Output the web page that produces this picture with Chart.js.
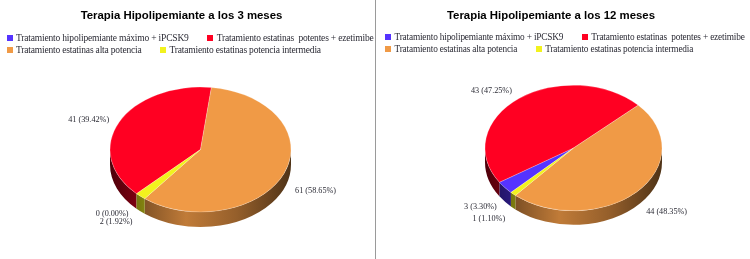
<!DOCTYPE html>
<html>
<head>
<meta charset="utf-8">
<script src="https://cdn.jsdelivr.net/npm/chart.js@4"></script>
<style>
  html, body { margin: 0; padding: 0; background: #fff; }
  body { position: relative; width: 750px; height: 259px; overflow: hidden; }
  canvas { position: absolute; top: 0; }
  #divider { position: absolute; left: 375px; top: 0; width: 1px; height: 259px; background: #9a9a9a; }
  .legend { position: absolute; display: flex; flex-wrap: wrap; font-family: "Liberation Serif", serif; color: #2b2b35; white-space: pre; line-height: 12px; }
  .legend span { display: flex; align-items: center; margin-right: 18.5px; }
  .legend i { display: inline-block; width: 6px; height: 6px; margin-right: 3.5px; }
</style>
</head>
<body>
<canvas id="chart3m" width="363" height="259" style="left:0"></canvas>
<canvas id="chart12m" width="352" height="259" style="left:375px"></canvas>
<div id="divider"></div>
<div class="legend" id="legend3m" style="left:6.5px;top:31.5px;width:400px;font-size:9.5px;letter-spacing:-0.18px"></div>
<div class="legend" id="legend12m" style="left:385px;top:30.5px;width:380px;font-size:9.3px;letter-spacing:-0.18px"></div>
<script>
const categories = [
  "Tratamiento hipolipemiante máximo + iPCSK9",
  "Tratamiento estatinas  potentes + ezetimibe",
  "Tratamiento estatinas alta potencia",
  "Tratamiento estatinas potencia intermedia"
];
const values3m = [0, 41, 61, 2];
const values12m = [3, 43, 44, 1];
const percent3m = ["0.00", "39.42", "58.65", "1.92"];
const percent12m = ["3.30", "47.25", "48.35", "1.10"];
const colors = ["#5533ff", "#ff0022", "#f09a46", "#f2f21e"];

function shade(hex, f) {
  const n = parseInt(hex.slice(1), 16);
  const r = Math.round((n >> 16) * f);
  const g = Math.round(((n >> 8) & 255) * f);
  const b = Math.round((n & 255) * f);
  return `rgb(${r},${g},${b})`;
}

function tilt(ctx, arc, o) {
  ctx.translate(o.x, o.y);
  ctx.scale(1, o.k);
  ctx.translate(-arc.x, -arc.y);
}

// fake 3d: squash the pie and draw the rim under it
const pie3d = {
  id: "pie3d",
  beforeDatasetsDraw(chart, args, o) {
    const ctx = chart.ctx;
    const arcs = chart.getDatasetMeta(0).data;
    const ry = arcs[0].outerRadius * o.k;
    const rx = arcs[0].outerRadius;
    arcs.forEach((arc, i) => {
      // only the front half of the rim shows
      for (const shift of [0, Math.PI * 2]) {
        const a = Math.max(arc.startAngle - shift, 0);
        const b = Math.min(arc.endAngle - shift, Math.PI);
        if (b <= a) continue;
        const g = ctx.createLinearGradient(o.x - rx, 0, o.x + rx, 0);
        g.addColorStop(0, shade(colors[i], 0.3));
        g.addColorStop(0.22, shade(colors[i], 0.58));
        g.addColorStop(0.42, shade(colors[i], 0.8));
        g.addColorStop(0.7, shade(colors[i], 0.62));
        g.addColorStop(1, shade(colors[i], 0.33));
        ctx.beginPath();
        ctx.ellipse(o.x, o.y, rx, ry, 0, a, b);
        ctx.ellipse(o.x, o.y + o.depth, rx, ry, 0, b, a, true);
        ctx.closePath();
        ctx.fillStyle = g;
        ctx.fill();
      }
    });
  },
  beforeDatasetDraw(chart, args, o) {
    chart.ctx.save();
    tilt(chart.ctx, chart.getDatasetMeta(0).data[0], o);
  },
  afterDatasetDraw(chart) {
    chart.ctx.restore();
  },
  afterDraw(chart, args, o) {
    const ctx = chart.ctx;
    const arcs = chart.getDatasetMeta(0).data;
    const data = chart.data.datasets[0].data;
    ctx.save();
    ctx.font = '8.2px "Liberation Serif"';
    ctx.fillStyle = "#2b2b35";
    ctx.textBaseline = "middle";
    arcs.forEach((arc, i) => {
      const mid = (arc.startAngle + arc.endAngle) / 2;
      const px = o.x + Math.cos(mid) * arc.outerRadius;
      const py = o.y + Math.sin(mid) * arc.outerRadius * o.k;
      ctx.textAlign = Math.cos(mid) < 0 ? "right" : "left";
      ctx.fillText(`${data[i]} (${o.percents[i]}%)`, px + o.nudge[i][0], py + o.nudge[i][1]);
    });
    ctx.restore();
  }
};

function createPie(canvasId, title, values, percents, geom) {
  new Chart(document.getElementById(canvasId), {
    type: "pie",
    data: {
      labels: categories,
      datasets: [{
        data: values,
        backgroundColor: colors,
        borderColor: "rgba(255,255,255,0.45)",
        borderWidth: 0.6,
        clip: false
      }]
    },
    plugins: [pie3d],
    options: {
      responsive: false,
      animation: false,
      rotation: 225,
      radius: geom.radius,
      plugins: {
        legend: { display: false },
        tooltip: { enabled: false },
        title: {
          display: true,
          text: title,
          color: "#000",
          font: { family: '"Liberation Sans"', size: 11.4, weight: "bold" },
          padding: { top: 9, bottom: 4 }
        },
        pie3d: { ...geom, percents: percents }
      }
    }
  });
}

function createLegend(id) {
  const box = document.getElementById(id);
  categories.forEach((name, i) => {
    const item = document.createElement("span");
    const swatch = document.createElement("i");
    swatch.style.background = colors[i];
    item.appendChild(swatch);
    item.appendChild(document.createTextNode(name));
    box.appendChild(item);
  });
}

createPie("chart3m", "Terapia Hipolipemiante a los 3 meses", values3m, percent3m, {
  radius: 90.5, x: 200.5, y: 149.5, k: 0.69, depth: 15,
  nudge: [[-8, 20], [-10, -2], [11, 17.6], [-8, 26]]
});
createPie("chart12m", "Terapia Hipolipemiante a los 12 meses", values12m, percent12m, {
  radius: 88.5, x: 198.5, y: 148, k: 0.71, depth: 14,
  nudge: [[-8, 19], [-7, -8], [9, 20], [-8, 25]]
});
createLegend("legend3m");
createLegend("legend12m");
</script>
</body>
</html>
